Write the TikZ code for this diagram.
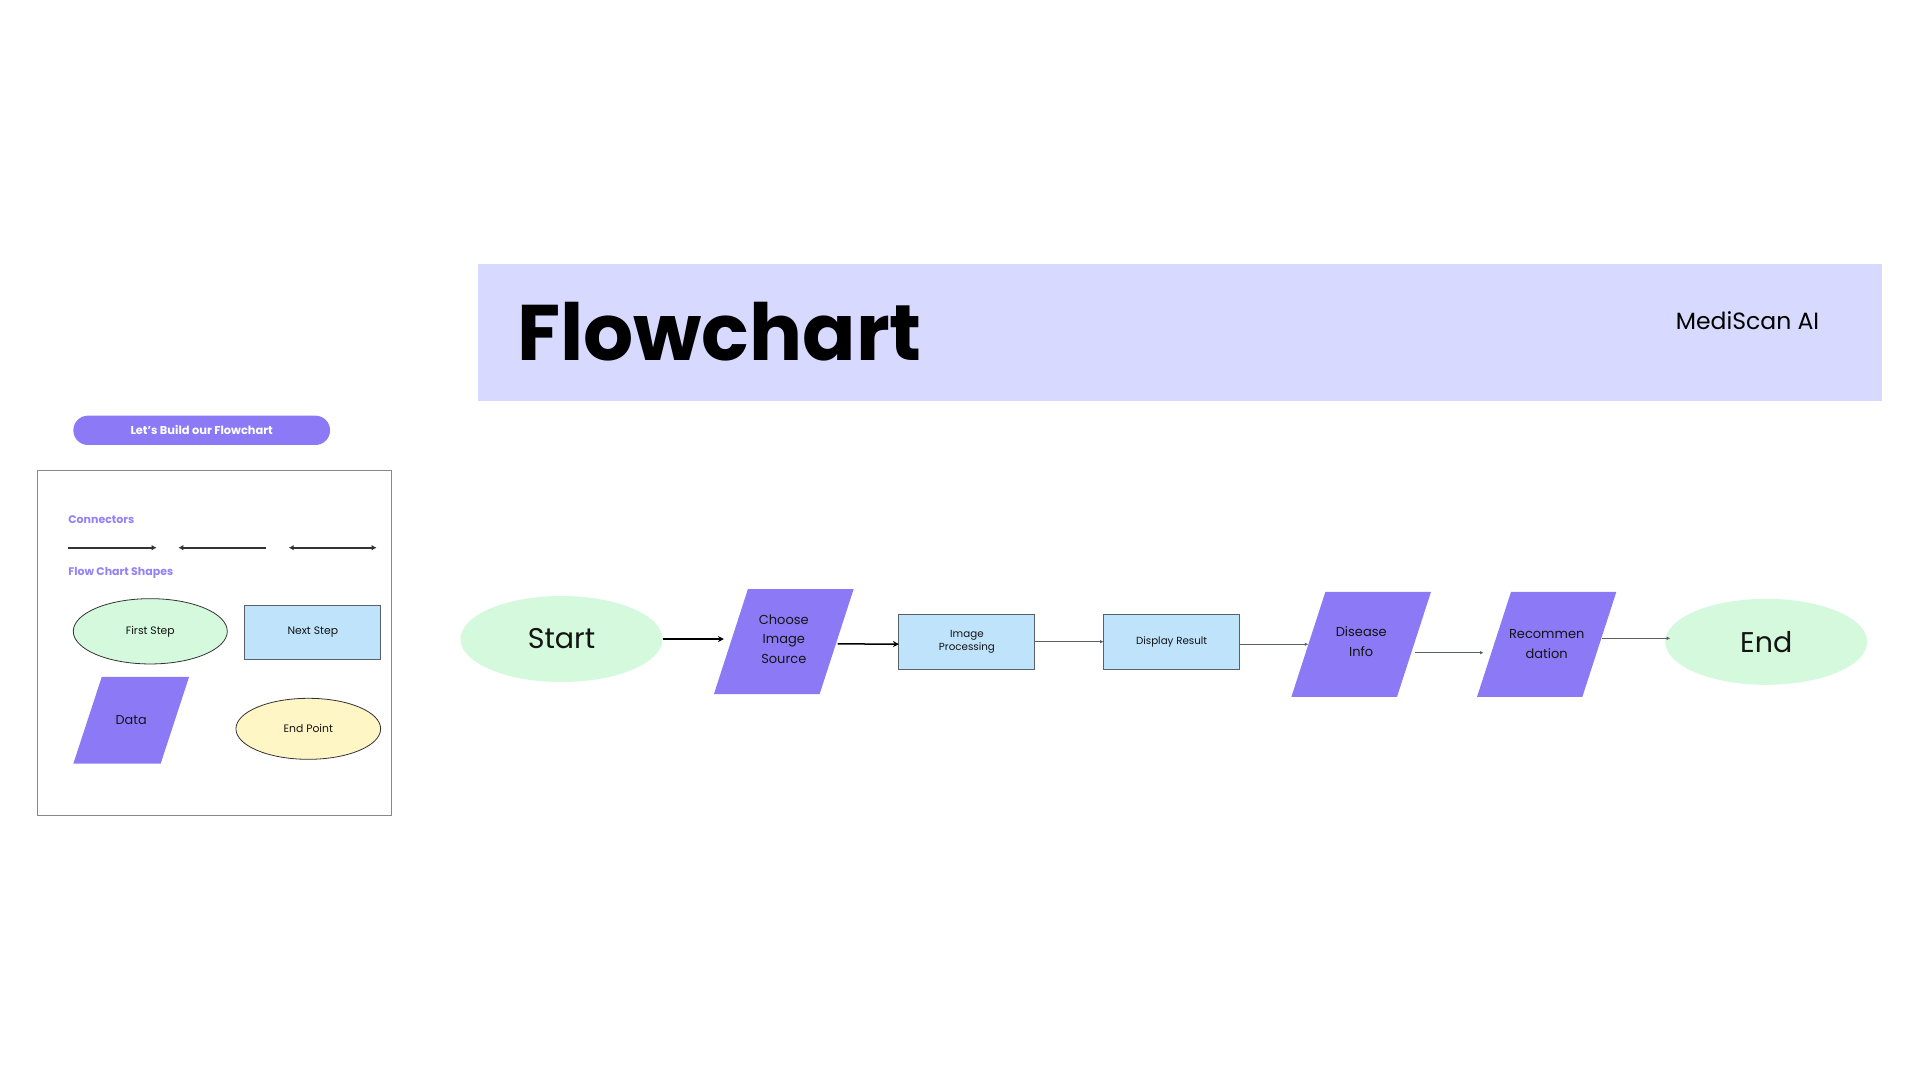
\documentclass[tikz,border=0pt]{standalone}
\usepackage{fontspec}
\setmainfont{Poppins}
\usetikzlibrary{shapes.geometric,arrows.meta,calc}
\definecolor{bannerc}{RGB}{215,217,254}
\definecolor{pur}{RGB}{140,121,246}
\definecolor{lgreen}{RGB}{212,249,220}
\definecolor{lblue}{RGB}{190,227,251}
\definecolor{lyellow}{RGB}{255,245,197}
\definecolor{labpur}{RGB}{147,129,247}
\definecolor{txt}{RGB}{20,20,20}
\definecolor{edgegray}{RGB}{90,96,104}
\begin{document}
\begin{tikzpicture}[x=1pt,y=-1pt,
  every node/.style={inner sep=0pt, outer sep=0pt, text=txt},
  paraS/.style={minimum width=#1, minimum height=105,
    path picture={\fill[pur] ([xshift=34pt]path picture bounding box.north west) -- (path picture bounding box.north east) -- ([xshift=-34pt]path picture bounding box.south east) -- (path picture bounding box.south west) -- cycle;}},
  termS/.style={ellipse, fill=lgreen, minimum width=202, minimum height=86, font=\fontsize{28.5}{31}\selectfont},
  procS/.style={rectangle, fill=lblue, draw=edgegray, line width=1pt, minimum width=136, minimum height=54.7, align=center, font=\fontsize{10.3}{13.5}\selectfont},
  ptxt/.style={align=center, font=\fontsize{13}{19.7}\selectfont},
  arrB/.style={draw=black, line width=1.5pt, -{Stealth[length=6pt,width=6pt]}},
  arrG/.style={draw=edgegray, line width=1pt, -{Latex[length=3.5pt,width=3.5pt]}},
  conn/.style={draw=black!80, line width=1.8pt},
  legS/.style={font=\fontsize{10.8}{12}\selectfont},
  labS/.style={anchor=west, text=labpur, font=\fontsize{11}{12}\bfseries\selectfont}
]
\useasboundingbox (0,0) rectangle (1920,1080);
\fill[white] (0,0) rectangle (1920,1080);

% banner
\node[fill=bannerc, minimum width=1404, minimum height=136.7] (banner) at (1180,332.3) {};
\node[anchor=base west, font=\fontsize{78.8}{80}\selectfont\bfseries, text=black] (title) at (517,360) {Flowchart};
\node[anchor=base, font=\fontsize{23.5}{26}\selectfont, text=black] (brand) at (1747.5,329) {MediScan AI};

% left legend
\node[fill=pur, rounded corners=14.6pt, minimum width=256.7, minimum height=29.3, text=white, font=\fontsize{11.4}{13}\bfseries\selectfont] (btn) at (201.7,430.3) {Let's Build our Flowchart};
\node[draw={rgb,255:red,136;green,136;blue,136}, line width=1pt, minimum width=354.4, minimum height=345] (panel) at (214.5,643.2) {};
\node[labS] (lconn) at (68.3,520) {Connectors};
\node[labS] (lshapes) at (68.3,573.3) {Flow Chart Shapes};
\coordinate (c1a) at (68.3,547.7);
\coordinate (c1b) at (156.7,547.7);
\coordinate (c2a) at (178.3,547.7);
\coordinate (c2b) at (266,547.7);
\coordinate (c3a) at (288.7,547.7);
\coordinate (c3b) at (376.7,547.7);
\draw[conn, -{Latex[length=5pt,width=5.5pt]}] (c1a) -- (c1b);
\draw[conn, {Latex[length=5pt,width=5.5pt]}-] (c2a) -- (c2b);
\draw[conn, {Latex[length=5pt,width=5.5pt]}-{Latex[length=5pt,width=5.5pt]}] (c3a) -- (c3b);
\node[ellipse, fill=lgreen, draw=black!80, line width=0.8pt, minimum width=154, minimum height=65.3, legS] (first) at (150.3,631.3) {First Step};
\node[rectangle, fill=lblue, draw=edgegray, line width=1pt, minimum width=135.7, minimum height=54, legS] (next) at (312.8,632.3) {Next Step};
\node[minimum width=115.7, minimum height=86.7, font=\fontsize{12.8}{14}\selectfont,
  path picture={\fill[pur] ([xshift=28.4pt]path picture bounding box.north west) -- (path picture bounding box.north east) -- ([xshift=-28.4pt]path picture bounding box.south east) -- (path picture bounding box.south west) -- cycle;}] (data) at (131.2,720.3) {Data};
\node[ellipse, fill=lyellow, draw=black!80, line width=0.8pt, minimum width=144.7, minimum height=61, legS] (endpt) at (308.3,728.8) {End Point};

% main flow
\node[termS] (start) at (561.5,639) {Start};
\node[paraS=139.7, ptxt] (ch) at (783.8,641.5) {Choose\\Image\\Source\rule[-5pt]{0pt}{0pt}};
\node[procS] (ip) at (966.9,641.7) {Image\\Processing};
\node[procS] (dr) at (1171.6,641.7) {Display Result};
\node[paraS=139.6, ptxt] (di) at (1361.2,644.3) {Disease\\Info\rule[-5pt]{0pt}{0pt}};
\node[paraS=139.3, ptxt] (re) at (1546.7,644.3) {Recommen\\dation};
\node[termS] (en) at (1766.2,641.8) {End};

\draw[arrB] (start.east) -- ([xshift=10pt]start.east -| ch.west);
\draw[arrB] ([xshift=-16pt,yshift=-2.4pt]ch.east) -- ([yshift=-2.4pt]ip.west);
\draw[arrG] (ip.east) -- (dr.west);
\draw[arrG] (dr.east |- di.center) -- ([xshift=17pt]di.west);
\draw[arrG] ([xshift=-16pt,yshift=-8.4pt]di.east) -- ([xshift=6.5pt,yshift=-8.4pt]re.west);
\draw[arrG] ([xshift=-14pt,yshift=6pt]re.east) -- ([xshift=5pt,yshift=3.5pt]en.west);
\end{tikzpicture}
\end{document}
